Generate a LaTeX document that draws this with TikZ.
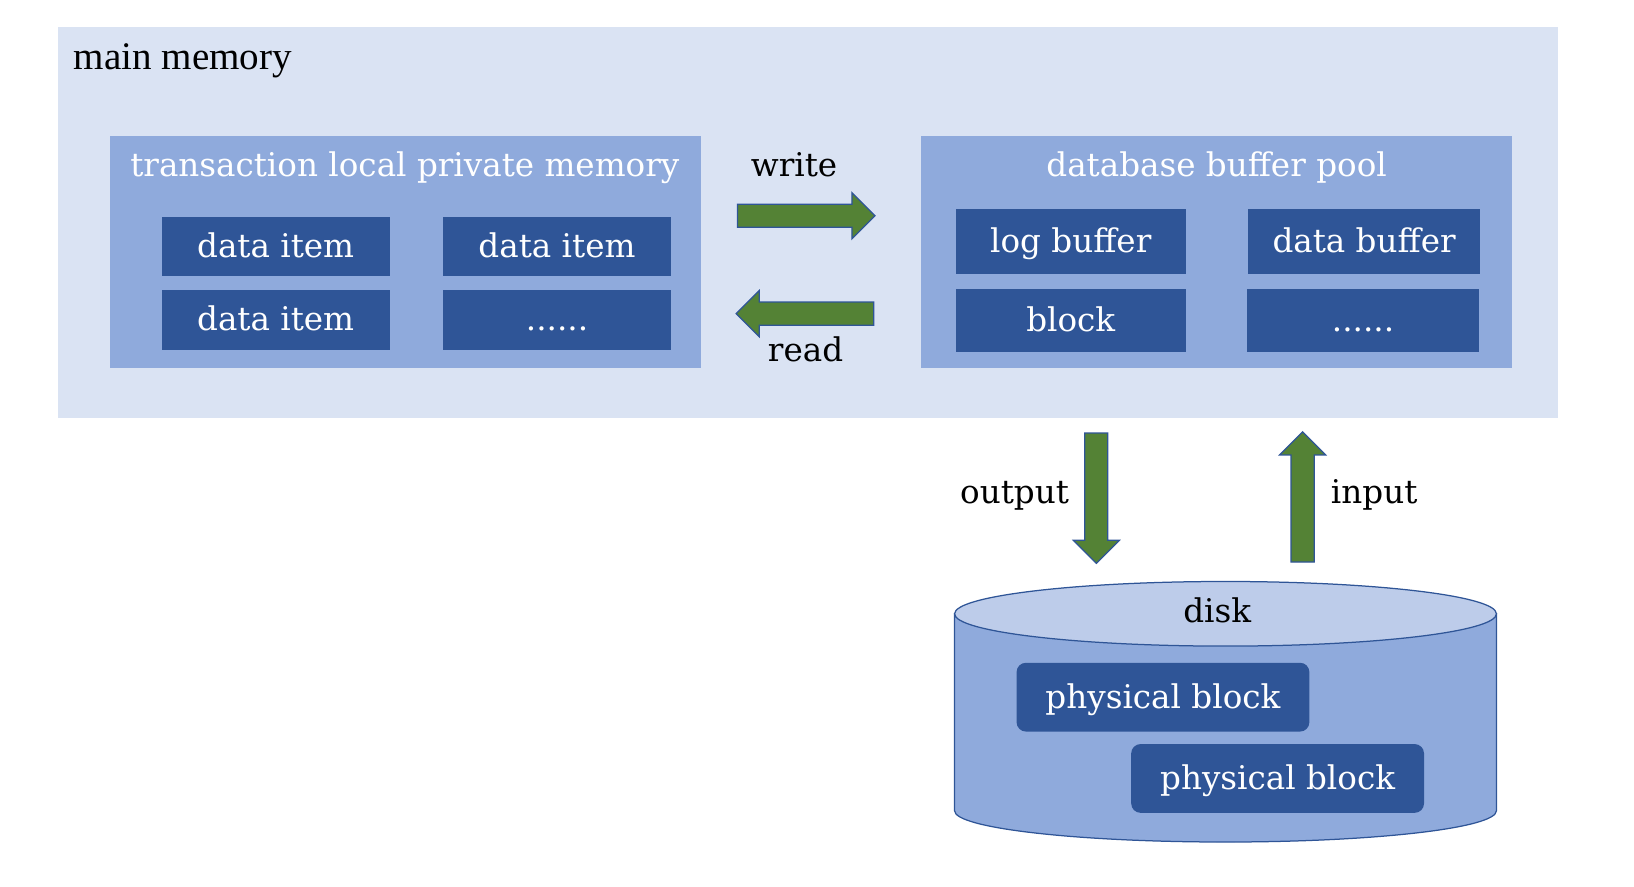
\documentclass[tikz,border=0pt]{standalone}
\usepackage{fontspec}
\setmainfont{DejaVu Serif}
\newfontfamily\timesfont{Liberation Serif}
\usetikzlibrary{shapes.arrows}
\definecolor{bgmem}{HTML}{DAE3F3}
\definecolor{panel}{HTML}{8FAADC}
\definecolor{itemc}{HTML}{2F5597}
\definecolor{agreen}{HTML}{548235}
\definecolor{disktop}{HTML}{BDCCEA}
\tikzset{
  txt/.style={font=\fontsize{31.3}{37}\selectfont, inner sep=0pt},
  wtxt/.style={txt, text=white},
  panelbox/.style={fill=panel, draw=none, anchor=north west, inner sep=0pt},
  itembox/.style={fill=itemc, draw=none, text=white, font=\fontsize{31.3}{37}\selectfont,
    text height=24pt, text depth=3pt, inner sep=0pt},
  diskbox/.style={itembox, rounded corners=9pt, minimum width=281pt, minimum height=66pt},
  bigarrow/.style={single arrow, fill=agreen, draw=itemc, line width=1.2pt,
    inner xsep=0pt, inner ysep=10.5pt,
    minimum width=43pt, single arrow head extend=11pt, single arrow tip angle=90},
}
\begin{document}
\begin{tikzpicture}[x=1pt,y=-1pt]
\useasboundingbox (0,0) rectangle (1568,850.3);
% main memory
\node[fill=bgmem, anchor=north west, inner sep=0pt, minimum width=1440pt, minimum height=375pt] (mem) at (55,26) {};
\node[anchor=base west, inner sep=0pt, font=\timesfont\fontsize{37.5}{44}\selectfont] (memlbl) at (70.5,67) {main memory};
% left panel
\node[panelbox, minimum width=567pt, minimum height=223pt] (tlp) at (105,130) {};
\node[wtxt, anchor=base] (tlplbl) at (388.5,169) {transaction local private memory};
\node[itembox, minimum width=219pt, minimum height=57pt] (d1) at (264.5,236.5) {data item};
\node[itembox, minimum width=219pt, minimum height=57pt] (d2) at (534.5,236.5) {data item};
\node[itembox, minimum width=219pt, minimum height=57pt] (d3) at (264.5,307) {data item};
\node[itembox, minimum width=219pt, minimum height=57pt] (d4) at (534.5,307) {......};
% right panel
\node[panelbox, minimum width=567pt, minimum height=223pt] (dbp) at (884,130) {};
\node[wtxt, anchor=base] (dbplbl) at (1167.5,169) {database buffer pool};
\node[itembox, minimum width=221pt, minimum height=62pt] (lb) at (1027.5,232) {log buffer};
\node[itembox, minimum width=222pt, minimum height=62pt] (db) at (1309,232) {data buffer};
\node[itembox, minimum width=221pt, minimum height=61pt] (bl) at (1027.5,307.5) {block};
\node[itembox, minimum width=222pt, minimum height=61pt] (dots) at (1308,307.5) {......};
% write / read arrows
\node[bigarrow, minimum height=132pt, anchor=tail] (wr) at (707,207) {};
\node[txt, anchor=base] (wrlbl) at (762,169) {write};
\node[bigarrow, minimum height=132pt, rotate=180, anchor=tail] (rd) at (839,301) {};
\node[txt, anchor=base] (rdlbl) at (773,347) {read};
% output / input arrows
\node[bigarrow, minimum height=125pt, rotate=-90, anchor=tail] (out) at (1052,415) {};
\node[txt, anchor=base east] (outlbl) at (1026,483) {output};
\node[bigarrow, minimum height=125pt, rotate=90, anchor=tail] (in) at (1250,540) {};
\node[txt, anchor=base west] (inlbl) at (1277,483) {input};
% disk
\filldraw[fill=panel, draw=itemc, line width=1.2pt] (916,589) -- (916,778)
  arc[start angle=180, end angle=360, x radius=260pt, y radius=30pt] -- (1436,589) -- cycle;
\filldraw[fill=disktop, draw=itemc, line width=1.2pt] (1176,589) ellipse[x radius=260pt, y radius=31pt];
\node[txt, anchor=base] (disklbl) at (1168,597) {disk};
\node[diskbox] (pb1) at (1116,669) {physical block};
\node[diskbox] (pb2) at (1226,747) {physical block};
\end{tikzpicture}
\end{document}
